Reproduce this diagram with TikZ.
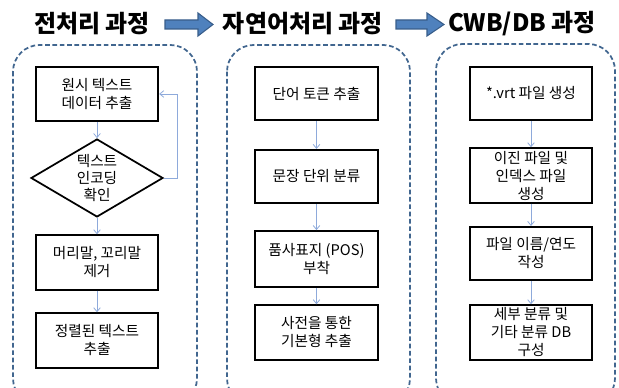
\documentclass[tikz,border=0pt]{standalone}
\usepackage{fontspec}
\setmainfont{Noto Sans CJK KR}
\usetikzlibrary{shapes.geometric, arrows.meta}
\definecolor{panelline}{HTML}{41668F}
\definecolor{flowline}{HTML}{8EAADB}
\definecolor{arrowfill}{HTML}{4F81BD}
\definecolor{arrowline}{HTML}{385D8A}

\begin{document}
\begin{tikzpicture}[
    x=0.75pt, y=-0.75pt,
    panel/.style={draw=panelline, line width=1.3pt, dash pattern=on 3.5pt off 2pt, rounded corners=20pt},
    stepbox/.style={draw=black, line width=1.3pt, minimum width=92pt, minimum height=40.5pt,
        inner sep=1pt, align=center, font=\fontsize{11}{13.5}\selectfont},
    flow/.style={draw=flowline, line width=0.6pt, -{Straight Barb[length=3pt,width=5pt]}},
    heading/.style={font=\fontsize{18}{20}\selectfont\bfseries}
]
    \clip (0,0) rectangle (619,388);

    % Headings and block arrows
    \node[heading] (prehead) at (92,24) {전처리 과정};
    \node[heading] (nlphead) at (303,24) {자연어처리 과정};
    \node[heading] (cwbhead) at (522,24) {CWB/DB 과정};
    \filldraw[fill=arrowfill, draw=arrowline, line width=0.8pt]
        (165,20) -- (198,20) -- (198,13) -- (213,24.5) -- (198,36) -- (198,29) -- (165,29) -- cycle;
    \filldraw[fill=arrowfill, draw=arrowline, line width=0.8pt]
        (396,20) -- (427,20) -- (427,13) -- (444,24.5) -- (427,36) -- (427,29) -- (396,29) -- cycle;

    % Dashed panels
    \draw[panel] (13,45) rectangle (197,405);
    \draw[panel] (227,45) rectangle (410,405);
    \draw[panel] (436,44) rectangle (615,405);

    % Pre-processing steps
    \node[stepbox] (raw) at (97,94) {원시 텍스트\\데이터 추출};
    \node[diamond, draw=black, line width=1.3pt, aspect=1.7, inner sep=0pt,
        minimum width=99pt, minimum height=58.5pt, align=center,
        font=\fontsize{11}{13}\selectfont] (encode) at (97,178) {텍스트\\인코딩\\확인};
    \node[stepbox, minimum height=41pt] (header) at (97,262.5) {머리말, 꼬리말\\제거};
    \node[stepbox, minimum height=41pt] (clean) at (97,340.5) {정렬된 텍스트\\추출};
    \draw[flow] (raw) -- (encode);
    \draw[flow] (encode) -- (header);
    \draw[flow] (header) -- (clean);
    \draw[flow] (encode.east) -- ++(14,0) |- (raw.east);

    % NLP steps
    \node[stepbox, minimum height=40pt] (token) at (316.5,93.5) {단어 토큰 추출};
    \node[stepbox, minimum height=40pt] (sentence) at (316.5,176.5) {문장 단위 분류};
    \node[stepbox, minimum height=42pt] (postag) at (316.5,259) {품사표지 (POS)\\부착};
    \node[stepbox, minimum height=41pt] (lemma) at (316.5,332.5) {사전을 통한\\기본형 추출};
    \draw[flow] (token) -- (sentence);
    \draw[flow] (sentence) -- (postag);
    \draw[flow] (postag) -- (lemma);

    % CWB/DB steps
    \node[stepbox, minimum width=91.5pt, minimum height=40pt] (vrt) at (531,93.5) {*.vrt 파일 생성};
    \node[stepbox, minimum width=91.5pt, minimum height=41pt] (binary) at (531,175.5) {이진 파일 및\\인덱스 파일\\생성};
    \node[stepbox, minimum width=91.5pt, minimum height=40pt] (naming) at (531,253.5) {파일 이름/연도\\작성};
    \node[stepbox, minimum width=91.5pt, minimum height=41pt] (category) at (531,332.5) {세부 분류 및\\기타 분류 DB\\구성};
    \draw[flow] (vrt) -- (binary);
    \draw[flow] (binary) -- (naming);
    \draw[flow] (naming) -- (category);

\end{tikzpicture}
\end{document}
